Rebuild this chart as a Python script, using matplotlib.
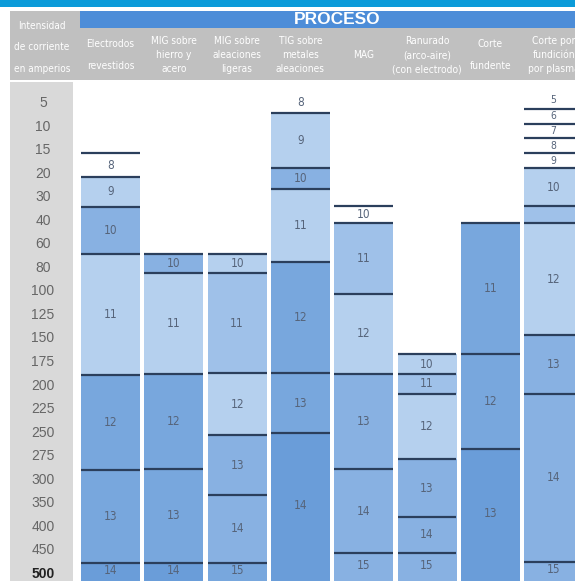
import matplotlib
matplotlib.use("Agg")
import matplotlib.pyplot as plt
from matplotlib.patches import Rectangle

# row labels (current intensity in amperes), one row per value
amperes = ["5", "10", "15", "20", "30", "40", "60", "80", "100", "125", "150",
           "175", "200", "225", "250", "275", "300", "350", "400", "450", "500"]

processes = ["Electrodos\nrevestidos", "MIG sobre\nhierro y\nacero",
             "MIG sobre\naleaciones\nligeras", "TIG sobre\nmetales\naleaciones",
             "MAG", "Ranurado\n(arco-aire)\n(con electrodo)", "Corte\nfundente",
             "Corte por\nfundición\npor plasma"]

# segment edges in row units (0 = "5" row)
edges_electrodos = [2.14, 3.13, 4.40, 6.41, 11.55, 15.58, 19.52, 20.6]
edges_mig_hierro = [6.41, 7.23, 11.50, 15.55, 19.52, 20.6]
edges_mig_aleac = [6.41, 7.23, 11.47, 14.10, 16.65, 19.52, 20.6]
edges_tig = [-0.44, 0.44, 2.76, 3.67, 6.74, 11.48, 14.03, 20.6]
edges_mag = [4.37, 5.11, 8.11, 11.50, 15.56, 19.10, 20.6]
edges_ranurado = [10.67, 11.50, 12.36, 15.13, 17.57, 19.10, 20.6]
edges_corte = [5.11, 10.66, 14.70, 20.6]
edges_plasma = [-0.51, 0.25, 0.89, 1.49, 2.12, 2.77, 4.37, 5.11, 9.85, 12.36, 19.48, 20.6]

# filter shade numbers for each segment
shades_electrodos = ["8", "9", "10", "11", "12", "13", "14"]
shades_mig_hierro = ["10", "11", "12", "13", "14"]
shades_mig_aleac = ["10", "11", "12", "13", "14", "15"]
shades_tig = ["8", "9", "10", "11", "12", "13", "14"]
shades_mag = ["10", "11", "12", "13", "14", "15"]
shades_ranurado = ["10", "11", "12", "13", "14", "15"]
shades_corte = ["11", "12", "13"]
shades_plasma = ["5", "6", "7", "8", "9", "10", "", "12", "13", "14", "15"]

all_edges = [edges_electrodos, edges_mig_hierro, edges_mig_aleac, edges_tig,
             edges_mag, edges_ranurado, edges_corte, edges_plasma]
all_shades = [shades_electrodos, shades_mig_hierro, shades_mig_aleac, shades_tig,
              shades_mag, shades_ranurado, shades_corte, shades_plasma]

# styling: tone index per segment, and whether the first label sits open above the bar
palette = ["#ffffff", "#b5d0ee", "#9fc1e9", "#88b1e2", "#78a7dd", "#6a9dd9"]
tones = [[0, 1, 3, 1, 4, 4, 5],
         [3, 1, 4, 4, 5],
         [1, 2, 1, 3, 3, 4],
         [0, 1, 3, 1, 4, 4, 5],
         [0, 2, 1, 3, 3, 3],
         [1, 2, 1, 3, 3, 3],
         [4, 4, 5],
         [0, 0, 0, 0, 0, 1, 2, 1, 3, 3, 3]]
open_top = [False, False, False, True, False, False, False, True]

LINE = "#2b3f5c"
TXT = "#56647a"
HEAD = dict(family="DejaVu Sans", fontstretch="condensed")


def px_x(p):
    return (p - 110.5) / 63.3


def px_y(p):
    return (p - 103.0) / 23.55


fig = plt.figure(figsize=(5.75, 5.81), dpi=100)
ax = fig.add_axes([0, 0, 1, 1])
ax.set_xlim(px_x(0), px_x(575))
ax.set_ylim(px_y(581), px_y(0))
ax.axis("off")

# header
ax.add_patch(Rectangle((px_x(0), px_y(0)), px_x(575) - px_x(0), px_y(7) - px_y(0),
                       color="#0b9bd9", lw=0))
ax.add_patch(Rectangle((px_x(10), px_y(11)), px_x(575) - px_x(10), px_y(80) - px_y(11),
                       color="#c0c0c0", lw=0))
ax.add_patch(Rectangle((px_x(80), px_y(11)), px_x(575) - px_x(80), px_y(28) - px_y(11),
                       color="#4d8dd8", lw=0))
ax.add_patch(Rectangle((px_x(10), px_y(82)), px_x(73) - px_x(10), px_y(581) - px_y(82),
                       color="#d9d9d9", lw=0))
ax.text(px_x(337), px_y(19.5), "PROCESO", color="white", fontsize=12.5,
        fontweight="bold", family="Liberation Sans", ha="center", va="center")
ax.text(px_x(42), px_y(47.5), "Intensidad\nde corriente\nen amperios", color="white",
        fontsize=7.2, ha="center", va="center", linespacing=2.4, **HEAD)

width = 59 / 63.3
for c, name in enumerate(processes):
    nlines = name.count("\n") + 1
    ax.text(c, px_y(55), name, color="white", fontsize=7.3, ha="center", va="center",
            linespacing=2.4 if nlines == 2 else 1.5, **HEAD)

for i, a in enumerate(amperes):
    bold = a == "500"
    ax.text(px_x(43), i, a, fontsize=10, family="Liberation Sans", ha="center", va="center",
            color="#222222" if bold else "#666666", fontweight="bold" if bold else "normal")

# stacked segments
for c, (edges, labels, tone) in enumerate(zip(all_edges, all_shades, tones)):
    tops = edges[:-1]
    heights = [b - t for t, b in zip(edges[:-1], edges[1:])]
    ax.bar([c] * len(tops), heights, bottom=tops, width=width,
           color=[palette[t] for t in tone], lw=0)
    line_edges = edges[1:-1] if open_top[c] else edges[:-1]
    ax.hlines(line_edges, c - width / 2, c + width / 2, color=LINE, lw=1.6)
    crowded = len(labels) > 8
    for t, b, lab in zip(edges[:-1], edges[1:], labels):
        mid = (t + min(b, px_y(578))) / 2
        small = crowded and b - t < 0.8
        ax.text(c, mid, lab, ha="center", va="center", color=TXT,
                fontsize=7.5 if small else 8.5, fontstretch="condensed")

fig.savefig("out.png", dpi=100)
